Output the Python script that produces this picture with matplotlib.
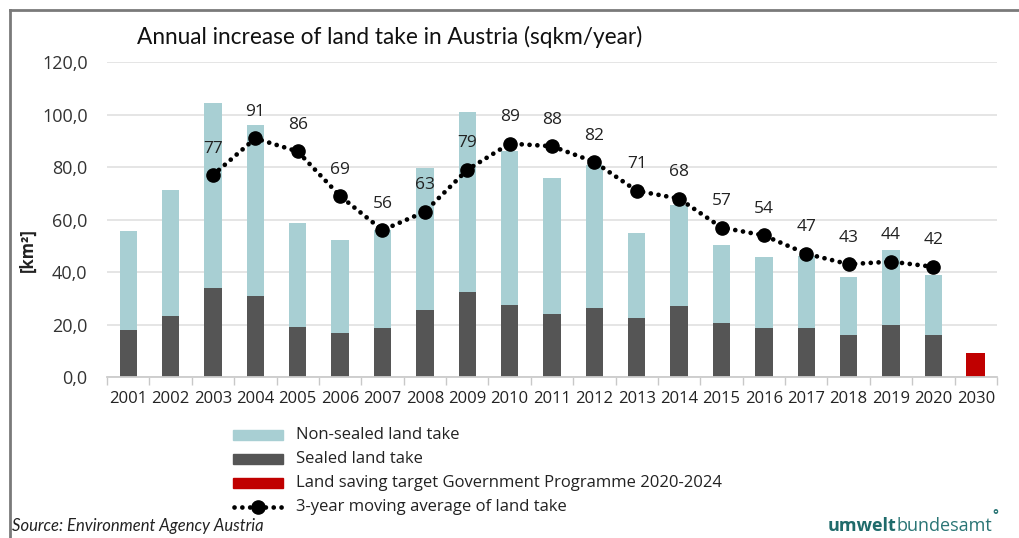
import numpy as np
import matplotlib
matplotlib.use("Agg")
import matplotlib.pyplot as plt
from matplotlib.patches import Rectangle
from matplotlib.lines import Line2D
from matplotlib.ticker import FixedLocator

plt.rcParams['font.family'] = ['Open Sans', 'DejaVu Sans']

years = ["2001", "2002", "2003", "2004", "2005", "2006", "2007", "2008", "2009", "2010",
         "2011", "2012", "2013", "2014", "2015", "2016", "2017", "2018", "2019", "2020", "2030"]
total_land_take = [55.5, 71.4, 104.6, 96.1, 58.7, 52.3, 56.0, 79.6, 101.2, 86.0,
                   75.8, 81.0, 54.9, 65.7, 50.2, 45.6, 46.0, 38.3, 48.3, 39.0]
sealed = [18.0, 23.1, 33.9, 31.0, 19.0, 16.8, 18.5, 25.7, 32.5, 27.3,
          24.1, 26.3, 22.5, 26.9, 20.6, 18.7, 18.5, 15.9, 19.7, 16.0]
target_2030 = 9.0
moving_avg_years = years[2:20]
moving_avg = [77, 91, 86, 69, 56, 63, 79, 89, 88, 82, 71, 68, 57, 54, 47, 43, 44, 42]

c_nonsealed = "#a8cfd3"
c_sealed = "#555555"
c_target = "#c00000"
dot_style = (0, (0.01, 1.65))

fig = plt.figure(figsize=(10.2, 5.38), dpi=100)
ax = fig.add_axes([107 / 1020, 161 / 538, 890 / 1020, 314.7 / 538])

x = np.arange(len(years))
n = len(total_land_take)
non_sealed = np.array(total_land_take) - np.array(sealed)
w = 0.41
ax.bar(x[:n], sealed, width=w, color=c_sealed, zorder=2)
ax.bar(x[:n], non_sealed, bottom=sealed, width=w, color=c_nonsealed, zorder=2)
ax.bar(x[n], target_2030, width=w * 1.1, color=c_target, zorder=2)

xm = np.array([years.index(y) for y in moving_avg_years])
ax.plot(xm, moving_avg, linestyle=dot_style, dash_capstyle='round', color='black',
        linewidth=3.4, zorder=3)
ax.plot(xm, moving_avg, linestyle='none', marker='o', markersize=9.5, color='black', zorder=4)
for xi, v in zip(xm, moving_avg):
    ax.annotate(f"{v}", (xi, v), xytext=(0, 19), textcoords='offset points',
                ha='center', va='center', fontsize=12.5, color='#222222', zorder=5)

ax.set_xlim(-0.5, len(years) - 0.5)
ax.set_ylim(0, 120)
ax.set_yticks(np.arange(0, 121, 20))
ax.set_yticklabels([f"{v:.1f}".replace('.', ',') for v in np.arange(0, 121, 20)],
                   fontsize=13, color='#333333')
ax.set_xticks(x)
ax.set_xticklabels(years, fontsize=12, color='#222222')
ax.tick_params(axis='x', which='major', length=0, pad=10)
ax.tick_params(axis='y', length=0, pad=14)
ax.xaxis.set_minor_locator(FixedLocator(np.arange(-0.5, len(years), 1.0)))
ax.tick_params(axis='x', which='minor', length=6, color='#c8c8c8', width=1)

ax.grid(axis='y', color='#e3e3e3', linewidth=1.3, zorder=0)
ax.set_axisbelow(True)
for s in ['top', 'right', 'left']:
    ax.spines[s].set_visible(False)
ax.spines['bottom'].set_color('#cccccc')
ax.spines['bottom'].set_linewidth(1.3)

fig.text(28 / 1020, 1 - 250 / 538, "[km²]", rotation=90, ha='center', va='center',
         fontsize=12, fontweight='bold', color='#222222')

fig.text(137 / 1020, 1 - 37 / 538, "Annual increase of land take in Austria (sqkm/year)",
         ha='left', va='center', fontsize=16.3, family=['Lato', 'DejaVu Sans'], color='#111111')

# Legend entries
legend_rows = [
    ("patch", c_nonsealed, "Non-sealed land take", 435),
    ("patch", c_sealed, "Sealed land take", 459),
    ("patch", c_target, "Land saving target Government Programme 2020-2024", 483),
    ("line", "black", "3-year moving average of land take", 507),
]
for kind, col, label, ypx in legend_rows:
    yf = 1 - ypx / 538
    if kind == "patch":
        fig.add_artist(Rectangle((233 / 1020, yf - 5 / 538), 50 / 1020, 10 / 538,
                                 transform=fig.transFigure, color=col))
    else:
        fig.add_artist(Line2D([234 / 1020, 283 / 1020], [yf, yf], transform=fig.transFigure,
                              linestyle=dot_style, dash_capstyle='round',
                              color='black', linewidth=3.4))
        fig.add_artist(Line2D([258 / 1020], [yf], transform=fig.transFigure,
                              marker='o', markersize=9.5, color='black', linestyle='none'))
    fig.text(296 / 1020, yf, label, ha='left', va='center', fontsize=12, color='#222222')

fig.text(12 / 1020, 1 - 526 / 538, "Source: Environment Agency Austria", ha='left', va='center',
         fontsize=12, style='italic', family=['Lato', 'DejaVu Sans'], color='#222222')

# Agency wordmark
t1 = fig.text(828 / 1020, 1 - 526 / 538, "umwelt", ha='left', va='center', fontsize=13,
              fontweight='bold', color='#1f6b6b')
fig.canvas.draw()
bb = t1.get_window_extent()
t2 = fig.text(bb.x1 / 1020, 1 - 526 / 538, "bundesamt", ha='left', va='center', fontsize=13,
              color='#2a7575')
fig.canvas.draw()
bb2 = t2.get_window_extent()
fig.text(bb2.x1 / 1020, 1 - 516 / 538, "\u00b0", ha='left', va='center', fontsize=10,
         color='#2a7575', fontweight='bold')

# Frame lines
fig.add_artist(Line2D([10 / 1020, 1], [1 - 10 / 538, 1 - 10 / 538], transform=fig.transFigure,
                      color='#7a7a7a', linewidth=2))
fig.add_artist(Line2D([10 / 1020, 10 / 1020], [0, 1 - 10 / 538], transform=fig.transFigure,
                      color='#7a7a7a', linewidth=2))

fig.savefig("out.png", dpi=100)
